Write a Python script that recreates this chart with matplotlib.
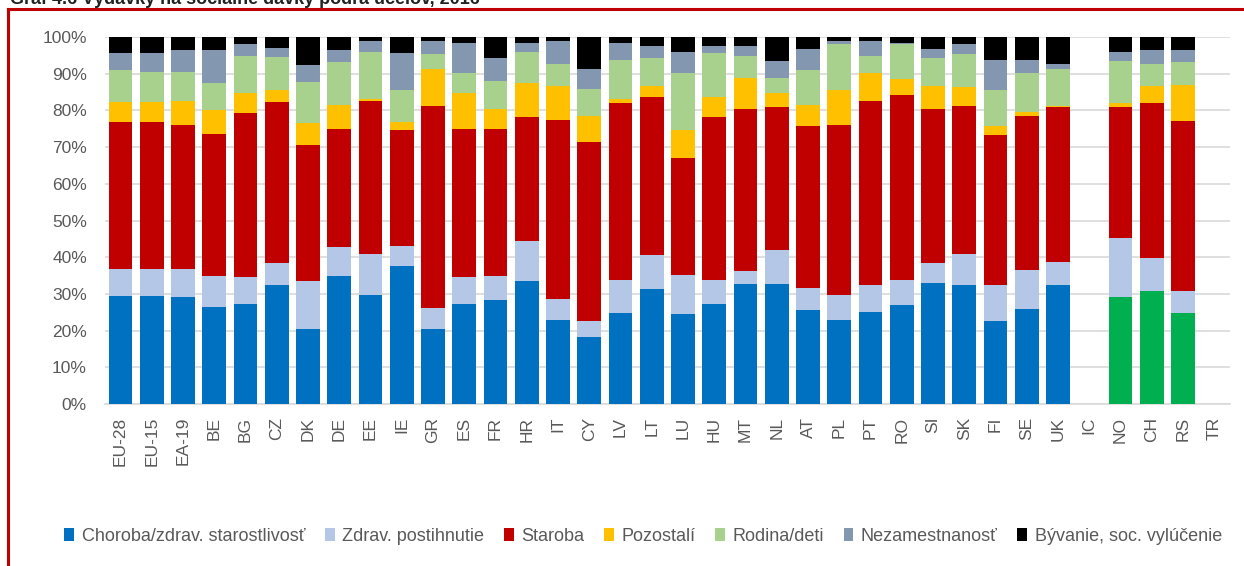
import numpy as np
import matplotlib.pyplot as plt
from matplotlib.patches import Patch
from matplotlib.lines import Line2D

plt.rcParams['font.family'] = ['Liberation Sans', 'DejaVu Sans']

# kategórie (krajiny)
countries = ['EU-28', 'EU-15', 'EA-19', 'BE', 'BG', 'CZ', 'DK', 'DE', 'EE', 'IE',
             'GR', 'ES', 'FR', 'HR', 'IT', 'CY', 'LV', 'LT', 'LU', 'HU', 'MT',
             'NL', 'AT', 'PL', 'PT', 'RO', 'SI', 'SK', 'FI', 'SE', 'UK', 'IC',
             'NO', 'CH', 'RS', 'TR']

# podiely jednotlivých funkcií (%)
choroba = [29.5, 29.5, 29.1, 26.5, 27.3, 32.4, 20.4, 34.9, 29.8, 37.7,
           20.4, 27.3, 28.4, 33.4, 22.9, 18.2, 24.7, 31.3, 24.4, 27.3, 32.6,
           32.6, 25.5, 22.9, 25.1, 26.9, 33.0, 32.3, 22.5, 25.8, 32.3, 0,
           29.1, 30.8, 24.7, 0]
postihnutie = [7.2, 7.2, 7.6, 8.3, 7.2, 6.0, 13.0, 7.8, 11.2, 5.4,
               5.8, 7.2, 6.4, 10.9, 5.8, 4.3, 9.0, 9.3, 10.8, 6.4, 3.7,
               9.5, 6.0, 6.8, 7.2, 6.8, 5.5, 8.7, 9.8, 10.8, 6.5, 0,
               16.2, 9.1, 6.1, 0]
staroba = [40.1, 40.1, 39.4, 38.7, 44.9, 43.9, 37.2, 32.3, 41.6, 31.5,
           55.0, 40.5, 40.2, 34.0, 48.8, 48.9, 48.2, 43.1, 31.9, 44.6, 44.2,
           38.7, 44.2, 46.4, 50.3, 50.4, 42.0, 40.2, 40.9, 42.0, 42.0, 0,
           35.5, 42.0, 46.4, 0]
pozostali = [5.5, 5.5, 6.5, 6.6, 5.4, 3.2, 5.9, 6.5, 0.4, 2.2,
             10.1, 9.8, 5.5, 9.1, 9.1, 7.2, 1.1, 2.9, 7.5, 5.4, 8.2,
             4.0, 5.8, 9.4, 7.6, 4.4, 6.1, 5.1, 2.5, 1.1, 0.4, 0,
             1.1, 4.7, 9.8, 0]
rodina = [8.6, 8.2, 7.9, 7.3, 10.1, 9.0, 11.2, 11.6, 13.0, 8.7,
          4.0, 5.4, 7.6, 8.6, 6.1, 7.3, 10.8, 7.6, 15.6, 11.9, 6.2,
          3.9, 9.4, 12.7, 4.7, 9.7, 7.6, 9.0, 9.8, 10.5, 10.1, 0,
          11.6, 6.1, 6.1, 0]
nezamestnanost = [4.7, 5.1, 5.9, 9.0, 3.3, 2.6, 4.7, 3.3, 2.9, 10.1,
                  3.6, 8.3, 6.1, 2.5, 6.2, 5.4, 4.7, 3.3, 5.8, 1.9, 2.6,
                  4.8, 5.8, 0.7, 4.0, 0.3, 2.5, 2.9, 8.3, 3.6, 1.4, 0,
                  2.5, 3.7, 3.3, 0]
byvanie = [4.4, 4.4, 3.6, 3.6, 1.8, 2.9, 7.6, 3.6, 1.1, 4.4,
           1.1, 1.5, 5.8, 1.5, 1.1, 8.7, 1.5, 2.5, 4.0, 2.5, 2.5,
           6.5, 3.3, 1.1, 1.1, 1.5, 3.3, 1.8, 6.2, 6.2, 7.3, 0,
           4.0, 3.6, 3.6, 0]

non_eu = ['NO', 'CH', 'RS']

labels = ['Choroba/zdrav. starostlivosť', 'Zdrav. postihnutie', 'Staroba',
          'Pozostalí', 'Rodina/deti', 'Nezamestnanosť', 'Bývanie, soc. vylúčenie']
colors = ['#0070C0', '#B4C7E7', '#C00000', '#FFC000', '#A9D18E', '#8497B0', '#000000']
series = [choroba, postihnutie, staroba, pozostali, rodina, nezamestnanost, byvanie]

fig = plt.figure(figsize=(12.44, 5.66), dpi=100)
ax = fig.add_axes([0.0844, 0.2862, 0.9043, 0.6484])

x = np.arange(len(countries))
bottom = np.zeros(len(countries))
for i, (vals, col) in enumerate(zip(series, colors)):
    vals = np.array(vals) / 100
    if i == 0:
        cols = ['#00B050' if c in non_eu else col for c in countries]
    else:
        cols = col
    ax.bar(x, vals, 0.76, bottom=bottom, color=cols, zorder=3)
    bottom += vals

ax.set_xlim(-0.5, len(countries) - 0.5)
ax.set_ylim(0, 1)
ax.set_yticks(np.arange(0, 1.01, 0.1))
ax.set_yticklabels([f'{int(round(v*100))}%' for v in np.arange(0, 1.01, 0.1)])
ax.set_xticks(x)
ax.set_xticklabels(countries, rotation=90)
ax.tick_params(axis='y', length=0, labelsize=12.5, labelcolor='#595959', pad=13)
ax.tick_params(axis='x', length=0, labelsize=12.5, labelcolor='#595959', pad=9)
ax.grid(axis='y', color='#D9D9D9', linewidth=1.2, zorder=0)
for s in ['top', 'right', 'left']:
    ax.spines[s].set_visible(False)
ax.spines['bottom'].set_color('#D9D9D9')
ax.spines['bottom'].set_linewidth(1.2)

handles = [Patch(facecolor=c, edgecolor='none') for c in colors]
fig.legend(handles, labels, loc='center', bbox_to_anchor=(0.517, 0.053), ncol=7,
           frameon=False, fontsize=13, handlelength=0.55, handleheight=0.7,
           handletextpad=0.4, columnspacing=1.1, labelcolor='#595959')

# orámovanie a odrezaný nadpis
fig.add_artist(Line2D([8 / 1244, 1], [1 - 9 / 566, 1 - 9 / 566], color='#C00000', lw=2.2))
fig.add_artist(Line2D([8 / 1244, 8 / 1244], [0, 1 - 9 / 566], color='#C00000', lw=2.2))
fig.text(10 / 1244, 1 - 4 / 566, 'Graf 4.6 Výdavky na sociálne dávky podľa účelov, 2016',
         fontsize=13, fontweight='bold', va='baseline', ha='left', color='#222222')

fig.savefig('out.png', dpi=100)
